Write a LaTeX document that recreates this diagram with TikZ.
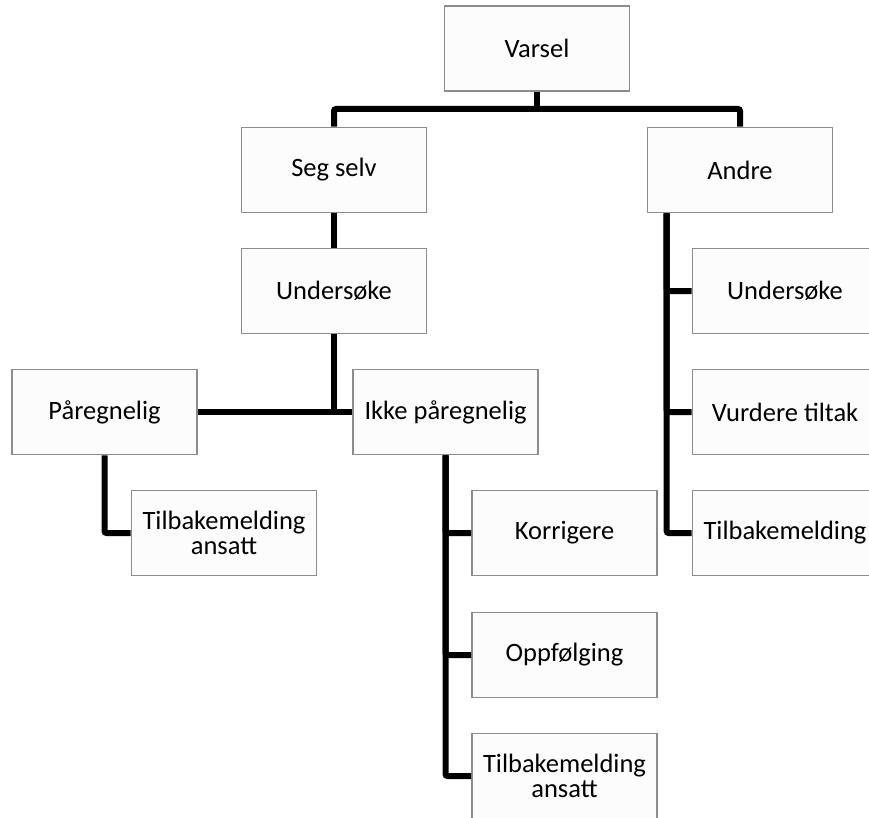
\documentclass[tikz,border=0pt]{standalone}
\usepackage{fontspec}
\setmainfont{Carlito}
\usetikzlibrary{positioning}
\definecolor{boxline}{RGB}{140,140,140}
\definecolor{boxfill}{RGB}{252,252,252}

\begin{document}
\begin{tikzpicture}[x=1pt,y=-1pt,
    unit/.style={draw=boxline,fill=boxfill,line width=1.6pt,
      minimum width=185pt,minimum height=85pt,inner sep=0pt,
      align=center,font=\fontsize{26.5}{25}\selectfont},
    link/.style={line width=6pt,draw=black,rounded corners=2pt}]
  \useasboundingbox (0,0) rectangle (869,818);
  \clip (0,0) rectangle (869,818);

  % boxes
  \node[unit] (varsel) at (537,48.5) {Varsel};
  \node[unit] (seg) at (334,170) {Seg selv};
  \node[unit] (andre) at (740,170) {Andre};
  \node[unit] (us) at (334,291) {Undersøke};
  \node[unit] (paa) at (104.5,412) {Påregnelig};
  \node[unit] (ikke) at (445.5,412) {Ikke påregnelig};
  \node[unit] (tbl) at (224,533) {Tilbakemelding\\ansatt};
  \node[unit] (korr) at (564.5,533) {Korrigere};
  \node[unit] (oppf) at (564.5,655) {Oppfølging};
  \node[unit] (tba) at (564.5,776) {Tilbakemelding\\ansatt};
  \node[unit] (rus) at (785,291) {Undersøke};
  \node[unit] (rvt) at (785,412) {Vurdere tiltak};
  \node[unit] (rtb) at (785,533) {Tilbakemelding};

  % connectors
  \coordinate (bus) at (537,109);
  \coordinate (astem) at ([xshift=20pt]andre.south west);
  \draw[link] (varsel.south) -- (bus);
  \draw[link] (seg.north) |- (bus) -| (andre.north);
  \draw[link] (seg.south) -- (us.north);
  \draw[link] (us.south) -- (us.south |- paa.east);
  \draw[link] (paa.east) -- (ikke.west);
  \draw[link] (paa.south) |- (tbl.west);
  \draw[link] (ikke.south) |- (korr.west);
  \draw[link] (ikke.south) |- (oppf.west);
  \draw[link] (ikke.south) |- (tba.west);
  \draw[link] (astem) |- (rus.west);
  \draw[link] (astem) |- (rvt.west);
  \draw[link] (astem) |- (rtb.west);
\end{tikzpicture}
\end{document}
